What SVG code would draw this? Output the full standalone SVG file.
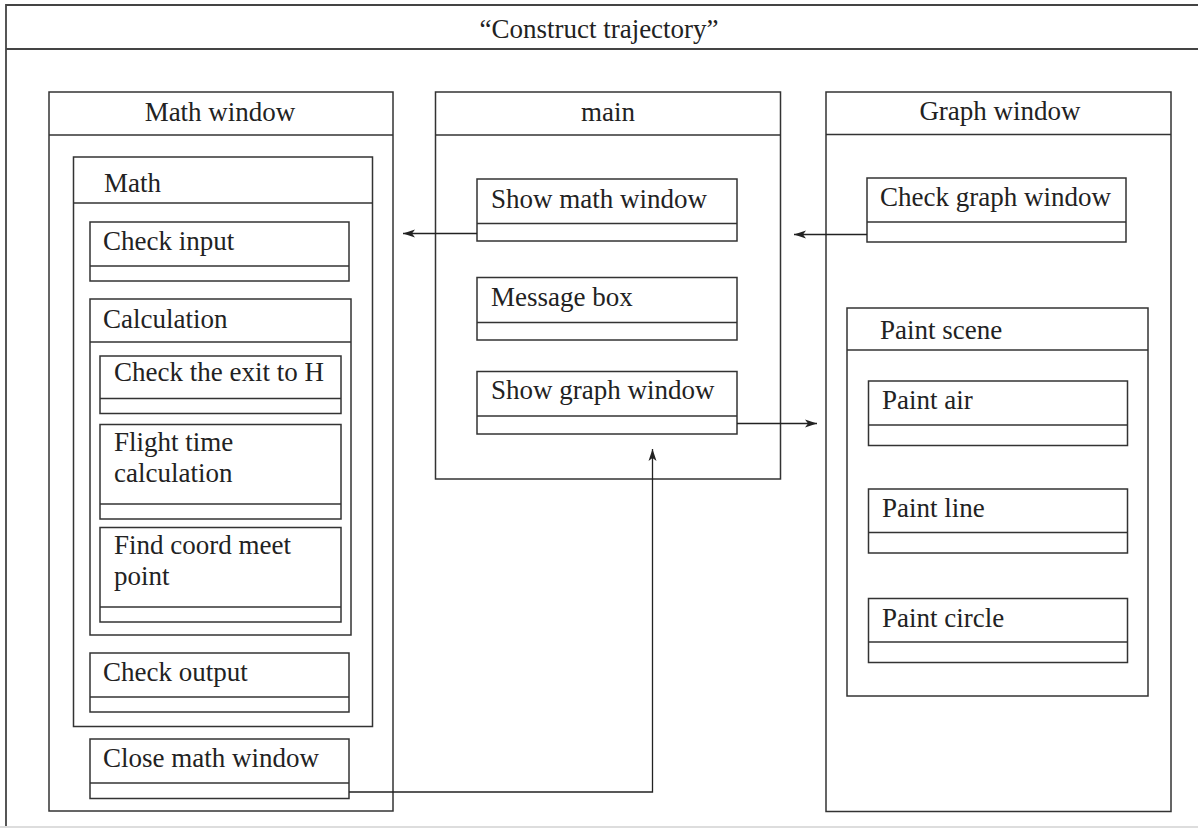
<svg xmlns="http://www.w3.org/2000/svg" width="1198" height="828" viewBox="0 0 1198 828">
<style>
  .box { fill: #fff; stroke: #333; stroke-width: 1.5; }
  .div { stroke: #333; stroke-width: 1.5; fill: none; }
  .frame { stroke: #444; stroke-width: 1.8; fill: none; }
  .t { font-family: "Liberation Serif", "Times New Roman", serif; font-size: 27px; fill: #222; }
  .c { text-anchor: middle; }
  .conn { stroke: #222; stroke-width: 1.3; fill: none; }
</style>
<defs>
  <marker id="arr" markerUnits="userSpaceOnUse" markerWidth="14" markerHeight="10" refX="12" refY="5" orient="auto">
    <path d="M0,1 L12,5 L0,9 L3,5 Z" fill="#222"/>
  </marker>
</defs>
<rect x="0" y="0" width="1198" height="828" fill="#fff"/>
<g id="frame">
  <path class="frame" d="M1198,5 H6 V827"/>
  <line class="frame" x1="6" y1="49" x2="1198" y2="49"/>
  <line x1="0" y1="827" x2="1198" y2="827" stroke="#ddd" stroke-width="2"/>
  <text class="t c" x="599" y="38">“Construct trajectory”</text>
</g>

<g id="math-window">
  <rect class="box" x="49" y="92" width="344" height="719"/>
  <line class="div" x1="49" y1="135" x2="393" y2="135"/>
  <text class="t c" x="220" y="121">Math window</text>
</g>
<g id="math">
  <rect class="box" x="73.5" y="157" width="299" height="569.5"/>
  <line class="div" x1="73.5" y1="203" x2="372.5" y2="203"/>
  <text class="t" x="104" y="192">Math</text>
</g>
<g id="check-input">
  <rect class="box" x="90" y="222" width="259" height="59"/>
  <line class="div" x1="90" y1="266" x2="349" y2="266"/>
  <text class="t" x="103" y="250">Check input</text>
</g>
<g id="calculation">
  <rect class="box" x="90" y="299" width="261" height="336"/>
  <line class="div" x1="90" y1="342" x2="351" y2="342"/>
  <text class="t" x="103" y="328">Calculation</text>
</g>
<g id="check-exit">
  <rect class="box" x="100" y="356" width="241" height="57.5"/>
  <line class="div" x1="100" y1="398.5" x2="341" y2="398.5"/>
  <text class="t" x="114" y="381">Check the exit to H</text>
</g>
<g id="flight-time">
  <rect class="box" x="100" y="424.5" width="241" height="94.5"/>
  <line class="div" x1="100" y1="504" x2="341" y2="504"/>
  <text class="t" x="114" y="451">Flight time</text>
  <text class="t" x="114" y="482">calculation</text>
</g>
<g id="find-coord">
  <rect class="box" x="100" y="527.5" width="241" height="94.5"/>
  <line class="div" x1="100" y1="607" x2="341" y2="607"/>
  <text class="t" x="114" y="554">Find coord meet</text>
  <text class="t" x="114" y="585">point</text>
</g>
<g id="check-output">
  <rect class="box" x="90" y="653" width="259" height="59"/>
  <line class="div" x1="90" y1="697" x2="349" y2="697"/>
  <text class="t" x="103" y="681">Check output</text>
</g>
<g id="close-math-window">
  <rect class="box" x="90" y="739" width="259" height="59.5"/>
  <line class="div" x1="90" y1="783" x2="349" y2="783"/>
  <text class="t" x="103" y="767">Close math window</text>
</g>

<g id="main">
  <rect class="box" x="435.5" y="92" width="345" height="387"/>
  <line class="div" x1="435.5" y1="135" x2="780.5" y2="135"/>
  <text class="t c" x="608" y="121">main</text>
</g>
<g id="show-math-window">
  <rect class="box" x="477" y="179" width="260" height="62"/>
  <line class="div" x1="477" y1="223.5" x2="737" y2="223.5"/>
  <text class="t" x="491" y="208">Show math window</text>
</g>
<g id="message-box">
  <rect class="box" x="477" y="277.5" width="260" height="62.5"/>
  <line class="div" x1="477" y1="322.5" x2="737" y2="322.5"/>
  <text class="t" x="491" y="306">Message box</text>
</g>
<g id="show-graph-window">
  <rect class="box" x="477" y="371.5" width="260" height="62.5"/>
  <line class="div" x1="477" y1="416" x2="737" y2="416"/>
  <text class="t" x="491" y="399">Show graph window</text>
</g>

<g id="graph-window">
  <rect class="box" x="826" y="92" width="345" height="719.5"/>
  <line class="div" x1="826" y1="134.5" x2="1171" y2="134.5"/>
  <text class="t c" x="1000" y="120">Graph window</text>
</g>
<g id="check-graph-window">
  <rect class="box" x="867" y="178" width="259" height="64"/>
  <line class="div" x1="867" y1="222" x2="1126" y2="222"/>
  <text class="t" x="880" y="206">Check graph window</text>
</g>
<g id="paint-scene">
  <rect class="box" x="847" y="308" width="301" height="388"/>
  <line class="div" x1="847" y1="350" x2="1148" y2="350"/>
  <text class="t" x="880" y="339">Paint scene</text>
</g>
<g id="paint-air">
  <rect class="box" x="868.5" y="381" width="259" height="64.5"/>
  <line class="div" x1="868.5" y1="425" x2="1127.5" y2="425"/>
  <text class="t" x="882" y="409">Paint air</text>
</g>
<g id="paint-line">
  <rect class="box" x="868.5" y="489" width="259" height="64"/>
  <line class="div" x1="868.5" y1="532.5" x2="1127.5" y2="532.5"/>
  <text class="t" x="882" y="517">Paint line</text>
</g>
<g id="paint-circle">
  <rect class="box" x="868.5" y="598.5" width="259" height="64"/>
  <line class="div" x1="868.5" y1="642" x2="1127.5" y2="642"/>
  <text class="t" x="882" y="627">Paint circle</text>
</g>

<g id="connectors">
  <line class="conn" x1="477" y1="233.5" x2="403" y2="233.5" marker-end="url(#arr)"/>
  <line class="conn" x1="867" y1="234.5" x2="794" y2="234.5" marker-end="url(#arr)"/>
  <line class="conn" x1="737" y1="423.5" x2="817" y2="423.5" marker-end="url(#arr)"/>
  <path class="conn" d="M349,792 H652.5 V449" marker-end="url(#arr)"/>
</g>
</svg>
